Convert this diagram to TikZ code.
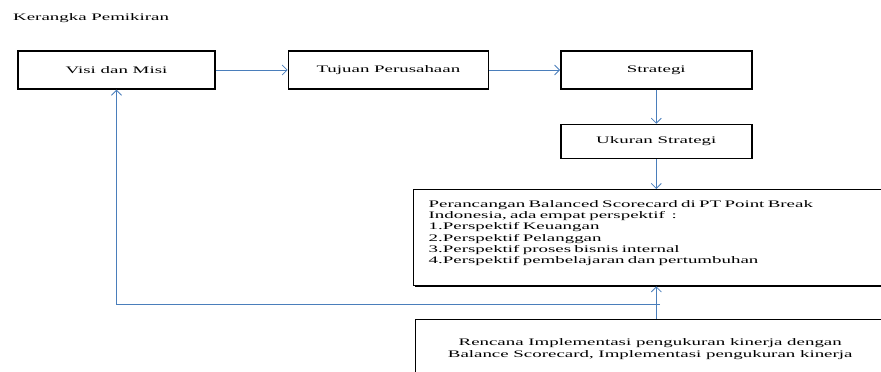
\documentclass[tikz,border=0pt]{standalone}
\usepackage{fontspec}
\setmainfont{Liberation Serif}[FakeStretch=1.89]
\usepackage{xcolor}
\usetikzlibrary{positioning, arrows.meta, calc, shadows}
\definecolor{flowblue}{HTML}{4A7EBB}
\tikzset{
  stepbox/.style={draw=black, fill=white, line width=1.4pt, inner sep=0pt,
    drop shadow={shadow xshift=0.9pt, shadow yshift=-0.9pt, opacity=1, fill=black}},
  flow/.style={draw=flowblue, line width=0.8pt, -{Straight Barb[length=5pt,width=10pt]}}
}

\begin{document}
\begin{tikzpicture}[x=1pt, y=-1pt, font=\fontsize{10}{11.2}\selectfont]
  \path[use as bounding box, clip] (0,0) rectangle (881,372);
  \node[anchor=base west, inner sep=0pt] (judul) at (13,20.5) {Kerangka Pemikiran};

  \node[stepbox, minimum width=197pt, minimum height=38pt] (visi) at (116.5,70) {Visi dan Misi};
  \node[stepbox, minimum width=200pt, minimum height=38pt, right=72pt of visi] (tujuan) {Tujuan Perusahaan};
  \node[stepbox, minimum width=191pt, minimum height=38pt, right=71pt of tujuan] (strategi) {Strategi};
  \node[stepbox, minimum width=191pt, minimum height=34pt, below=34pt of strategi] (ukuran) {Ukuran Strategi};

  \node[stepbox, anchor=north west, minimum width=471pt, minimum height=96pt,
        text width=441pt, inner xsep=15pt, align=left] (rancang) at (413,189) {%
    Perancangan Balanced Scorecard di PT Point Break\\
    Indonesia, ada empat perspektif~ :\\
    1.Perspektif Keuangan\\
    2.Perspektif Pelanggan\\
    3.Perspektif proses bisnis internal\\
    4.Perspektif pembelajaran dan pertumbuhan\\
    \mbox{}};
  \node[stepbox, anchor=north west, minimum width=469pt, minimum height=58pt,
        align=center] (rencana) at (415,319) {%
    Rencana Implementasi pengukuran kinerja dengan\\[0.8pt]
    Balance Scorecard, Implementasi pengukuran kinerja};

  \draw[flow] (visi) -- (tujuan);
  \draw[flow] (tujuan) -- (strategi);
  \draw[flow] (strategi) -- (ukuran);
  \draw[flow] (ukuran.south) -- (ukuran.south |- rancang.north);
  \draw[flow] (rencana.north -| ukuran) -- (rancang.south -| ukuran);
  \coordinate (balik) at (660,304);
  \draw[flow] (balik) -| (visi.south);
\end{tikzpicture}
\end{document}
